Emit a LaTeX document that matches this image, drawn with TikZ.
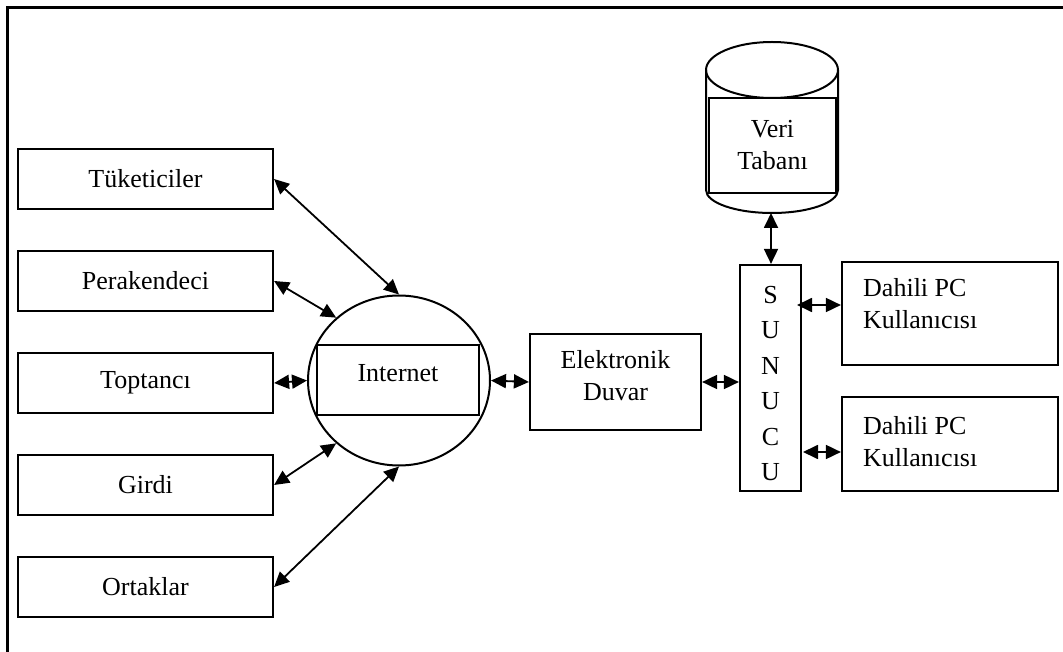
\documentclass[tikz,border=0pt]{standalone}
\usepackage{fontspec}
\setmainfont{Liberation Serif}
\usetikzlibrary{arrows.meta,shapes.geometric}
\begin{document}
\begin{tikzpicture}[x=1pt,y=-1pt,
  font=\fontsize{26}{32}\selectfont,
  box/.style={draw, line width=2.2pt, inner sep=0pt, minimum width=#1},
  leftbox/.style={box=255, minimum height=60},
  txt/.style={inner sep=0pt, align=center},
  arr/.style={line width=1.8pt, {Triangle[length=15pt,width=14pt]}-{Triangle[length=15pt,width=14pt]}}
]
\useasboundingbox (0,0) rectangle (1063,652);
% outer frame (right and bottom edges lie outside the picture)
\draw[line width=3pt] (7,652) -- (7,8) -- (1063,8);

% left boxes
\node[leftbox] (tuk) at (145.5,179) {Tüketiciler};
\node[leftbox] (per) at (145.5,281) {Perakendeci};
\node[leftbox] (top) at (145.5,383) {Toptancı};
\node[leftbox] (gir) at (145.5,485) {Girdi};
\node[leftbox] (ort) at (145.5,587) {Ortaklar};

% internet
\node[ellipse, draw, line width=2pt, minimum width=182, minimum height=170, inner sep=0pt] (inet) at (399,380.5) {};
\node[box=162, minimum height=70] (inrect) at (398,380) {};
\node[txt] (intxt) at (398,373) {Internet};

% firewall
\node[box=171, minimum height=96] (ed) at (615.5,382) {};
\node[txt] (edtxt) at (615.5,376) {Elektronik\\Duvar};

% server
\node[box=61, minimum height=226] (sunucu) at (770.5,378) {};
\node[txt, font=\fontsize{26}{35.5}\selectfont] (suntxt) at (770.5,383.5) {S\\U\\N\\U\\C\\U};

% database cylinder
\draw[line width=2pt] (772,70) ellipse [x radius=66, y radius=28];
\draw[line width=2pt] (706,70) -- (706,190) arc[start angle=180, end angle=0, x radius=66, y radius=23] -- (838,70);
\node[box=127, minimum height=95] (db) at (772.5,145.5) {};
\node[txt] (dbtxt) at (772.5,145) {Veri\\Tabanı};
\coordinate (dbb) at (771,213);

% internal PC users
\node[box=216, minimum height=103] (d1) at (950,313.5) {};
\node[inner sep=0pt, align=left, anchor=west] (d1txt) at (863,304) {Dahili PC\\Kullanıcısı};
\node[box=216, minimum height=94] (d2) at (950,444) {};
\node[inner sep=0pt, align=left, anchor=west] (d2txt) at (863,442) {Dahili PC\\Kullanıcısı};

% connectors
\draw[arr] (tuk.east) -- (inet.north);
\draw[arr] (per.east) -- (inet.135);
\draw[arr] (top.east) -- (inet.west);
\draw[arr] (gir.east) -- (inet.225);
\draw[arr] (ort.east) -- (inet.south);
\draw[arr] (inet.east) -- (ed.west);
\draw[arr] (ed.east) -- (ed.east -| sunucu.west);
\draw[arr] (dbb) -- (dbb |- sunucu.north);
\coordinate (y1) at (797,305);
\coordinate (y2) at (803,452);
\draw[arr] (y1) -- (y1 -| d1.west);
\draw[arr] (y2) -- (y2 -| d2.west);
\end{tikzpicture}
\end{document}
